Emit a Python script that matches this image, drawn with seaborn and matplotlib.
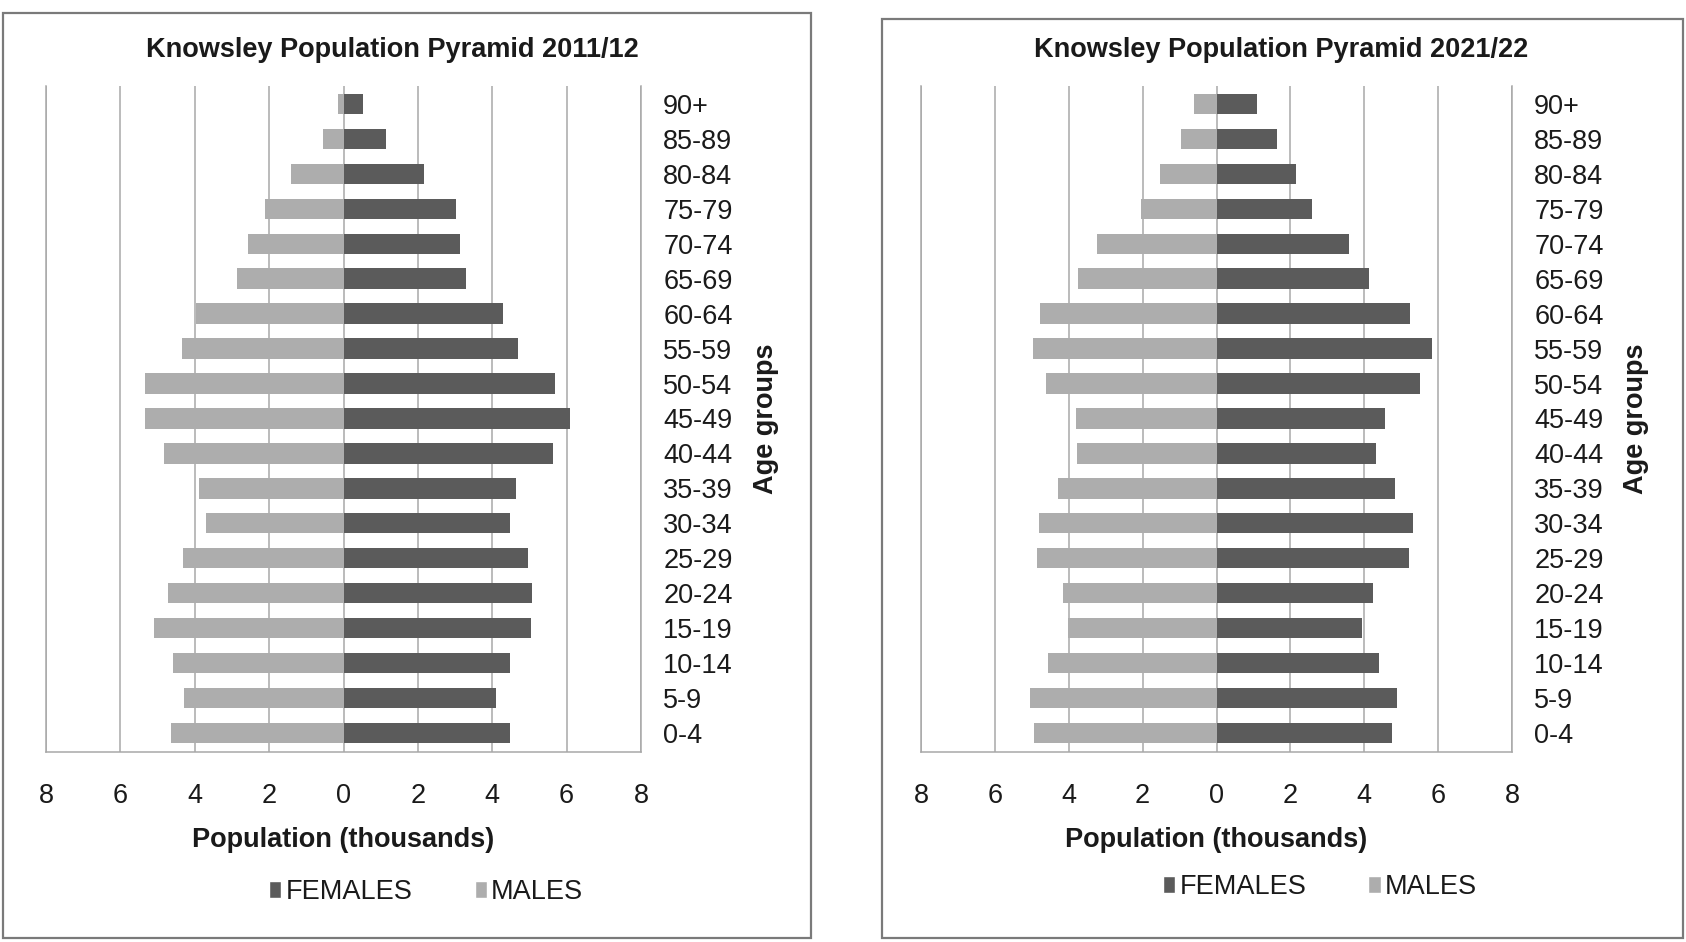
import numpy as np
import pandas as pd
import matplotlib
matplotlib.use("Agg")
import matplotlib.pyplot as plt
import seaborn as sns
from matplotlib.patches import Rectangle, Patch

# age groups, top of pyramid first
ages = ["90+", "85-89", "80-84", "75-79", "70-74", "65-69", "60-64", "55-59",
        "50-54", "45-49", "40-44", "35-39", "30-34", "25-29", "20-24",
        "15-19", "10-14", "5-9", "0-4"]

# population in thousands
females_2011 = [0.52, 1.13, 2.16, 3.03, 3.14, 3.29, 4.28, 4.70, 5.68, 6.09,
                5.62, 4.64, 4.49, 4.96, 5.07, 5.03, 4.49, 4.09, 4.49]
males_2011 = [0.14, 0.55, 1.42, 2.10, 2.58, 2.87, 3.97, 4.35, 5.35, 5.35,
              4.83, 3.88, 3.71, 4.32, 4.72, 5.09, 4.58, 4.29, 4.65]

females_2021 = [1.09, 1.65, 2.16, 2.58, 3.60, 4.14, 5.23, 5.83, 5.50, 4.55,
                4.33, 4.84, 5.31, 5.20, 4.23, 3.94, 4.40, 4.88, 4.74]
males_2021 = [0.60, 0.95, 1.53, 2.04, 3.24, 3.75, 4.77, 4.96, 4.62, 3.80,
              3.79, 4.29, 4.80, 4.87, 4.15, 4.01, 4.55, 5.06, 4.93]

titles = ["Knowsley Population Pyramid 2011/12", "Knowsley Population Pyramid 2021/22"]
x_ticks = [-8, -6, -4, -2, 0, 2, 4, 6, 8]

FEMALE_C = "#5b5b5b"
MALE_C = "#adadad"
GRID_C = "#a8a8a8"
TEXT_C = "#1a1a1a"
FS = 19.5

sns.set_style("white")
plt.rcParams["font.family"] = ["Liberation Sans", "DejaVu Sans"]

fig = plt.figure(figsize=(16.86, 9.42), dpi=100)

# panel layout (figure fractions)
panels = [
    dict(ax=[0.0273, 0.2017, 0.3529, 0.7070], box=(0.002, 0.004, 0.479, 0.982),
         title_x=0.2325, agegrp_x=0.4544, leg_x=0.2527, leg_y=0.053),
    dict(ax=[0.5463, 0.2017, 0.3505, 0.7070], box=(0.523, 0.004, 0.475, 0.976),
         title_x=0.7600, agegrp_x=0.9703, leg_x=0.7829, leg_y=0.058),
]
data = [(females_2011, males_2011), (females_2021, males_2021)]

for p, (fem, mal), title in zip(panels, data, titles):
    # panel frame
    fig.patches.append(Rectangle(p["box"][:2], p["box"][2], p["box"][3],
                                 transform=fig.transFigure, fill=False,
                                 edgecolor="#7a7a7a", linewidth=1.6))
    ax = fig.add_axes(p["ax"])
    df = pd.DataFrame({
        "age": ages * 2,
        "value": list(fem) + [-v for v in mal],
        "sex": ["FEMALES"] * len(ages) + ["MALES"] * len(ages),
    })
    for sex, col in [("FEMALES", FEMALE_C), ("MALES", MALE_C)]:
        sub = df[df["sex"] == sex]
        sns.barplot(data=sub, x="value", y="age", order=ages, orient="h",
                    color=col, width=0.58, ax=ax, saturation=1, linewidth=0)

    ax.set_xlim(-8, 8)
    ax.set_ylim(len(ages) - 0.46, -0.51)
    ax.set_xticks(x_ticks)
    ax.set_xticklabels([str(abs(t)) for t in x_ticks])
    ax.grid(axis="x", color=GRID_C, linewidth=1.1)
    ax.set_axisbelow(True)
    ax.spines["top"].set_visible(False)
    for side in ["left", "right", "bottom"]:
        ax.spines[side].set_color(GRID_C)
        ax.spines[side].set_linewidth(1.1)
    ax.yaxis.tick_right()
    ax.tick_params(axis="y", length=0, pad=16, labelsize=FS, labelcolor=TEXT_C)
    ax.tick_params(axis="x", length=0, pad=22, labelsize=FS, labelcolor=TEXT_C)
    ax.set_ylabel("")
    ax.set_xlabel("Population (thousands)", fontsize=FS, fontweight="bold",
                  color=TEXT_C)
    ax.xaxis.set_label_coords(0.5, -0.112)

    fig.text(p["title_x"], 0.947, title, ha="center", va="center",
             fontsize=FS, fontweight="bold", color=TEXT_C)
    fig.text(p["agegrp_x"], 0.555, "Age groups", ha="center", va="center",
             rotation=90, fontsize=FS, fontweight="bold", color=TEXT_C)

    handles = [Patch(facecolor=FEMALE_C, label="FEMALES"),
               Patch(facecolor=MALE_C, label="MALES")]
    fig.legend(handles=handles, loc="center", ncol=2, frameon=False,
               bbox_to_anchor=(p["leg_x"], p["leg_y"]), fontsize=FS,
               handlelength=0.45, handleheight=0.6, handletextpad=0.15,
               columnspacing=2.3, labelcolor=TEXT_C)

fig.savefig("out.png", dpi=100)
